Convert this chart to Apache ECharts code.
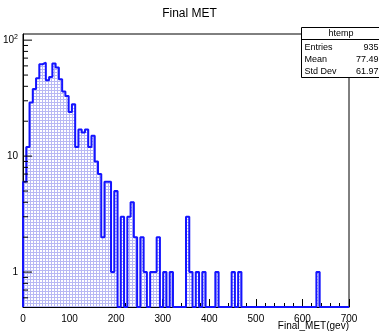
<!DOCTYPE html>
<html><head><meta charset="utf-8">
<script src="https://cdn.jsdelivr.net/npm/echarts@6/dist/echarts.min.js"></script>
<style>html,body{margin:0;padding:0;background:#fff}#c{width:379px;height:333px}</style>
</head><body><div id="c"></div>
<script>
// ---- data ----
const titleText = 'Final MET';
const histName = 'htemp';
const xTitle = 'Final_MET(gev)';
const binLow = 0, binHigh = 700, nBins = 100;
const counts = [
  6,12,29,38,47,62,64,45,48,63,
  58,46,36,33,24,28,12,17,16,17,
  12,15,9,7,2,6,6,1,5,0,
  3,0,3,4,2,0,2,1,0,1,
  1,2,0,1,0,1,0,0,0,0,
  3,1,0,1,0,1,0,0,0,1,
  0,0,0,0,1,0,1,0,0,0,
  0,0,0,0,0,0,0,0,0,0,
  0,0,0,0,0,0,0,0,0,0,
  1,0,0,0,0,0,0,0,0,0
];
const xTicks = [0,100,200,300,400,500,600,700];
const yMajorTicks = [1,10,100];
const yMinorTicks = [0.6,0.7,0.8,0.9,2,3,4,5,6,7,8,9,20,30,40,50,60,70,80,90];
const statsLabels = ['Entries','Mean','Std Dev'];
const statsValues = ['935','77.49','61.97'];
const yMin = 0.5, yMax = 113;

// ---- build ----
const binW = (binHigh - binLow) / nBins;
const stepData = [[binLow, yMin]];
counts.forEach((c, i) => stepData.push([binLow + i * binW, c > 0 ? c : yMin]));
const last = counts[nBins - 1];
stepData.push([binHigh, last > 0 ? last : yMin]);
stepData.push([binHigh, yMin]);

// fill pattern (dotted hatch)
const pc = document.createElement('canvas');
pc.width = 3; pc.height = 3;
const g = pc.getContext('2d');
g.fillStyle = '#ffffff'; g.fillRect(0,0,3,3);
g.fillStyle = '#b8b8f4'; g.fillRect(0,0,3,1); g.fillRect(0,0,1,3);

const FONT = '"Liberation Sans", Arial, sans-serif';
const chart = echarts.init(document.getElementById('c'), null, {renderer:'canvas'});

function tickSeries(vals, len){
  return {
    type:'custom', coordinateSystem:'cartesian2d', silent:true, z:10,
    data: vals.map(v => [binLow, v]),
    renderItem: (params, api) => {
      const p = api.coord([api.value(0), api.value(1)]);
      return {type:'line', shape:{x1:p[0], y1:p[1], x2:p[0]+len, y2:p[1]},
              style:{stroke:'#000', lineWidth:1}};
    }
  };
}

chart.setOption({
  animation:false,
  backgroundColor:'#fff',
  title:{text:titleText, left:'center', top:3,
         textStyle:{fontFamily:FONT, fontSize:12, fontWeight:'normal', color:'#000'}},
  grid:{left:22, top:34, width:327, height:273, show:true, borderColor:'#000', borderWidth:1, backgroundColor:'transparent'},
  xAxis:{type:'value', min:binLow, max:binHigh, interval:100,
         axisLine:{lineStyle:{color:'#000', width:1}},
         axisTick:{inside:true, length:8, lineStyle:{color:'#000'}},
         minorTick:{show:true, splitNumber:5, length:4, lineStyle:{color:'#000'}},
         splitLine:{show:false},
         axisLabel:{fontFamily:FONT, fontSize:10, color:'#000', margin:7,
                    formatter:v => xTicks.includes(v) ? String(v) : ''}},
  yAxis:{type:'log', logBase:10, min:yMin, max:yMax,
         axisLine:{show:true, lineStyle:{color:'#000', width:1}},
         axisTick:{show:false}, splitLine:{show:false},
         axisLabel:{fontFamily:FONT, fontSize:10, color:'#000', margin:5,
                    showMinLabel:false, showMaxLabel:false,
                    formatter:v => {
                      const r = Math.round(v);
                      if (Math.abs(v - r) > 1e-6 || !yMajorTicks.includes(r)) return '';
                      return r === 100 ? '10{s|2}' : String(r);
                    },
                    rich:{s:{fontSize:7, verticalAlign:'top', padding:[0,0,6,0], fontFamily:FONT, color:'#000'}}}},
  series:[
    {type:'line', step:'end', data:stepData, showSymbol:false, clip:true, z:3,
     lineStyle:{color:'#1414ff', width:2},
     areaStyle:{origin:'start', color:{image:pc, repeat:'repeat'}, opacity:1}},
    tickSeries(yMajorTicks, 9),
    tickSeries(yMinorTicks, 5)
  ],
  graphic:[
    {type:'text', right:30, top:321, style:{text:xTitle, font:'10px '+FONT, fill:'#000', textAlign:'right'}},
    {type:'group', left:299, top:27, z:100, children:[
      {type:'rect', shape:{x:0,y:0,width:79,height:50}, style:{fill:'#fff', stroke:'#000', lineWidth:1}},
      {type:'line', shape:{x1:0,y1:12,x2:79,y2:12}, style:{stroke:'#000', lineWidth:1}},
      {type:'text', x:39.5, y:6, style:{text:histName, font:'9px '+FONT, fill:'#000', textAlign:'center', textVerticalAlign:'middle'}},
      ...statsLabels.map((t,i)=>({type:'text', x:3, y:20+i*12, style:{text:t, font:'9px '+FONT, fill:'#000', textVerticalAlign:'middle'}})),
      ...statsValues.map((t,i)=>({type:'text', x:77, y:20+i*12, style:{text:t, font:'9px '+FONT, fill:'#000', textAlign:'right', textVerticalAlign:'middle'}}))
    ]}
  ]
});
</script></body></html>
